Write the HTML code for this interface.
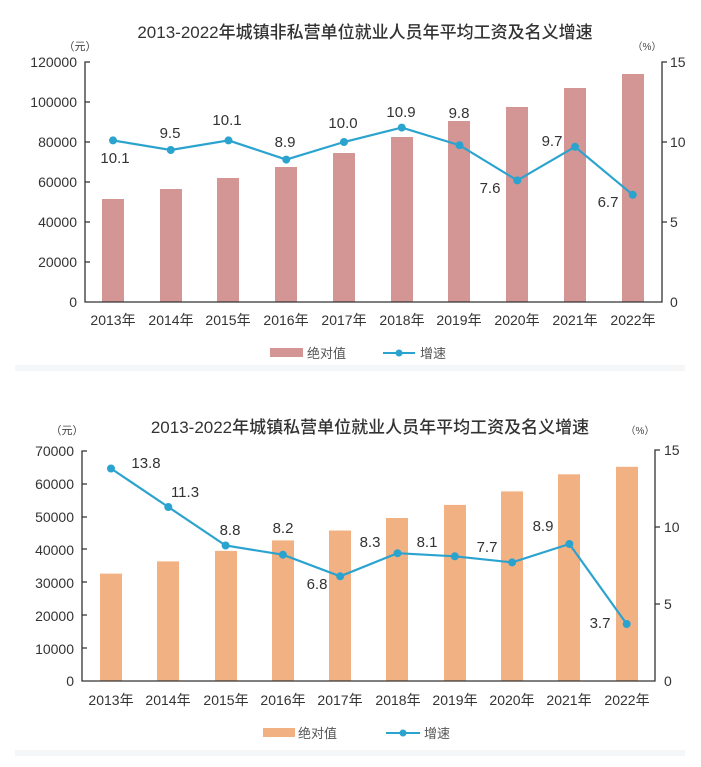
<!DOCTYPE html>
<html><head><meta charset="utf-8"><style>
html,body{margin:0;padding:0;background:#fff;}
svg{display:block;font-family:"Liberation Sans","Noto Sans CJK SC",sans-serif;}
</style></head><body>
<svg width="701" height="767" viewBox="0 0 701 767" xmlns="http://www.w3.org/2000/svg">
<rect x="0" y="0" width="701" height="767" fill="#fff"/>
<rect x="15" y="365" width="670" height="6" fill="#f5f6f8"/>
<rect x="15" y="750" width="670" height="6" fill="#f5f6f8"/>

<!-- Chart 1 -->
<text x="365" y="38" font-size="17" text-anchor="middle" fill="#333" font-weight="500">2013-2022年城镇非私营单位就业人员年平均工资及名义增速</text>
<text x="80" y="50" font-size="11" text-anchor="middle" fill="#444">（元）</text>
<text x="647" y="50" font-size="10" text-anchor="middle" fill="#444">（%）</text>
<g fill="#333" font-size="14" text-anchor="end">
<text x="77" y="67">120000</text><text x="77" y="107">100000</text><text x="77" y="147">80000</text>
<text x="77" y="187">60000</text><text x="77" y="227">40000</text><text x="77" y="267">20000</text><text x="77" y="307">0</text>
</g>
<g fill="#333" font-size="14">
<text x="670" y="67">15</text><text x="670" y="147">10</text><text x="670" y="227">5</text><text x="670" y="307">0</text>
</g>
<g fill="#d49595">
<rect x="102" y="199" width="22" height="103"/><rect x="160" y="189" width="22" height="113"/>
<rect x="217" y="178" width="22" height="124"/><rect x="275" y="167" width="22" height="135"/>
<rect x="333" y="153" width="22" height="149"/><rect x="391" y="137" width="22" height="165"/>
<rect x="448" y="121" width="22" height="181"/><rect x="506" y="107" width="22" height="195"/>
<rect x="564" y="88" width="22" height="214"/><rect x="622" y="74" width="22" height="228"/>
</g>
<g stroke="#333" stroke-width="1.3" fill="none">
<path d="M90 62H85V302H662V62H667"/>
<path d="M85 102h5M85 142h5M85 182h5M85 222h5M85 262h5M662 142h5M662 222h5"/>
</g>
<polyline fill="none" stroke="#2ba3cf" stroke-width="2.2" points="113,140.4 170.75,150 228.5,140.4 286.25,159.6 344,142 401.75,127.6 459.5,145.2 517.25,180.4 575,146.8 632.75,194.8"/>
<g fill="#2ba3cf">
<circle cx="113" cy="140.4" r="4"/><circle cx="170.75" cy="150" r="4"/><circle cx="228.5" cy="140.4" r="4"/><circle cx="286.25" cy="159.6" r="4"/><circle cx="344" cy="142" r="4"/><circle cx="401.75" cy="127.6" r="4"/><circle cx="459.5" cy="145.2" r="4"/><circle cx="517.25" cy="180.4" r="4"/><circle cx="575" cy="146.8" r="4"/><circle cx="632.75" cy="194.8" r="4"/>
</g>
<g fill="#333" font-size="15" text-anchor="middle">
<text x="115" y="163">10.1</text><text x="170" y="138">9.5</text><text x="227" y="125">10.1</text>
<text x="285" y="147">8.9</text><text x="343" y="128">10.0</text><text x="401" y="117">10.9</text>
<text x="459" y="118">9.8</text><text x="490" y="193">7.6</text><text x="552" y="146">9.7</text><text x="608" y="207">6.7</text>
</g>
<g fill="#333" font-size="14" text-anchor="middle">
<text x="113" y="325">2013年</text><text x="171" y="325">2014年</text><text x="228" y="325">2015年</text>
<text x="286" y="325">2016年</text><text x="344" y="325">2017年</text><text x="402" y="325">2018年</text>
<text x="459" y="325">2019年</text><text x="517" y="325">2020年</text><text x="575" y="325">2021年</text><text x="633" y="325">2022年</text>
</g>
<rect x="270" y="348" width="33" height="9" fill="#d49595"/>
<text x="307" y="358" font-size="13" fill="#555">绝对值</text>
<line x1="383" y1="353" x2="415" y2="353" stroke="#2ba3cf" stroke-width="2"/>
<circle cx="399" cy="353" r="3.5" fill="#2ba3cf"/>
<text x="420" y="358" font-size="13" fill="#555">增速</text>

<!-- Chart 2 -->
<text x="370" y="433" font-size="17" text-anchor="middle" fill="#333" font-weight="500">2013-2022年城镇私营单位就业人员年平均工资及名义增速</text>
<text x="67" y="434" font-size="11" text-anchor="middle" fill="#444">（元）</text>
<text x="640" y="434" font-size="10" text-anchor="middle" fill="#444">（%）</text>
<g fill="#333" font-size="14" text-anchor="end">
<text x="74" y="456">70000</text><text x="74" y="489">60000</text><text x="74" y="522">50000</text>
<text x="74" y="555">40000</text><text x="74" y="588">30000</text><text x="74" y="621">20000</text>
<text x="74" y="654">10000</text><text x="74" y="686">0</text>
</g>
<g fill="#333" font-size="14">
<text x="664" y="455">15</text><text x="664" y="532">10</text><text x="664" y="609">5</text><text x="664" y="686">0</text>
</g>
<g fill="#f2b183">
<rect x="100" y="573.6" width="22" height="107.4"/><rect x="157" y="561.4" width="22" height="119.6"/>
<rect x="215" y="550.9" width="22" height="130.1"/><rect x="272" y="540.4" width="22" height="140.6"/>
<rect x="329" y="530.5" width="22" height="150.5"/><rect x="386" y="518" width="22" height="163"/>
<rect x="444" y="504.9" width="22" height="176.1"/><rect x="501" y="491.4" width="22" height="189.6"/>
<rect x="558" y="474.3" width="22" height="206.7"/><rect x="616" y="466.8" width="22" height="214.2"/>
</g>
<g stroke="#333" stroke-width="1.3" fill="none">
<path d="M87 451H82V681H655V450H660"/>
<path d="M82 484h5M82 517h5M82 549h5M82 582h5M82 615h5M82 648h5M655 527h5M655 604h5"/>
</g>
<polyline fill="none" stroke="#2ba3cf" stroke-width="2.2" points="111,468.5 168.3,507 225.6,545.5 282.9,554.7 340.2,576.3 397.5,553.2 454.8,556.3 512.1,562.4 569.4,544 626.7,624"/>
<g fill="#2ba3cf">
<circle cx="111" cy="468.5" r="4"/><circle cx="168.3" cy="507" r="4"/><circle cx="225.6" cy="545.5" r="4"/><circle cx="282.9" cy="554.7" r="4"/><circle cx="340.2" cy="576.3" r="4"/><circle cx="397.5" cy="553.2" r="4"/><circle cx="454.8" cy="556.3" r="4"/><circle cx="512.1" cy="562.4" r="4"/><circle cx="569.4" cy="544" r="4"/><circle cx="626.7" cy="624" r="4"/>
</g>
<g fill="#333" font-size="15" text-anchor="middle">
<text x="146" y="468">13.8</text><text x="185" y="497">11.3</text><text x="230" y="535">8.8</text>
<text x="283" y="533">8.2</text><text x="317" y="589">6.8</text><text x="370" y="547">8.3</text>
<text x="427" y="547">8.1</text><text x="487" y="552">7.7</text><text x="543" y="531">8.9</text><text x="600" y="628">3.7</text>
</g>
<g fill="#333" font-size="14" text-anchor="middle">
<text x="111" y="705">2013年</text><text x="168" y="705">2014年</text><text x="226" y="705">2015年</text>
<text x="283" y="705">2016年</text><text x="340" y="705">2017年</text><text x="398" y="705">2018年</text>
<text x="455" y="705">2019年</text><text x="512" y="705">2020年</text><text x="569" y="705">2021年</text><text x="627" y="705">2022年</text>
</g>
<rect x="263" y="728" width="32" height="9" fill="#f2b183"/>
<text x="298" y="738" font-size="13" fill="#555">绝对值</text>
<line x1="386" y1="733" x2="420" y2="733" stroke="#2ba3cf" stroke-width="2"/>
<circle cx="403" cy="733" r="3.5" fill="#2ba3cf"/>
<text x="424" y="738" font-size="13" fill="#555">增速</text>
</svg>
</body></html>
